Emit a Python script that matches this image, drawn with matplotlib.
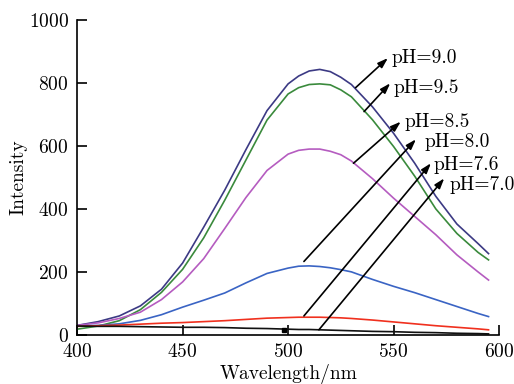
import numpy as np
import matplotlib
matplotlib.use("Agg")
import matplotlib.pyplot as plt

plt.rcParams["font.family"] = ["cmr10", "DejaVu Serif"]
plt.rcParams["mathtext.fontset"] = "cm"
plt.rcParams["axes.formatter.use_mathtext"] = True

# wavelength grid (nm)
wavelength = [400, 410, 420, 430, 440, 450, 460, 470, 480, 490, 500, 505,
              510, 515, 520, 525, 530, 540, 550, 560, 570, 580, 590, 595]

# intensities, one list per pH
ph90 = [30, 42, 60, 92, 145, 228, 342, 460, 588, 712, 797, 822,
        838, 843, 836, 818, 795, 724, 640, 545, 440, 352, 290, 258]
ph95 = [18, 28, 45, 80, 135, 208, 308, 428, 555, 682, 765, 785,
        795, 797, 794, 778, 756, 683, 598, 504, 400, 322, 262, 238]
ph85 = [30, 38, 52, 72, 112, 168, 242, 338, 436, 522, 574, 586,
        590, 590, 583, 572, 552, 496, 434, 376, 318, 254, 200, 174]
ph80 = [28, 30, 35, 46, 64, 88, 110, 133, 165, 195, 212, 218,
        219, 217, 213, 207, 200, 176, 154, 134, 112, 90, 68, 58]
ph76 = [27, 29, 31, 34, 37, 39, 42, 45, 49, 53, 55, 56,
        56, 56, 55, 54, 52, 47, 41, 35, 29, 24, 19, 16]
ph70 = [28, 27, 27, 26, 25, 24, 24, 23, 21, 20, 18, 17,
        17, 16, 15, 14, 13, 11, 10, 8, 7, 5, 4, 3]

series = [ph90, ph95, ph85, ph80, ph76, ph70]
colors = ["#3c3a84", "#3a8a3c", "#b55cc0", "#3a64c4", "#f0301e", "#111111"]

# labels: text, arrow start (on curve), arrow head, text anchor
labels = ["pH=9.0", "pH=9.5", "pH=8.5", "pH=8.0", "pH=7.6", "pH=7.0"]
arrow_start = [(532, 785), (536, 709), (531, 545), (507.5, 233), (507.5, 60), (514.6, 16)]
arrow_head = [(547.3, 879), (548.4, 799), (553.4, 677), (560.6, 621), (567.7, 545), (574, 497)]
text_pos = [(549, 879), (550, 784), (555, 676), (564.5, 613), (568.8, 540), (576.3, 476)]

fig = plt.figure(figsize=(5.14, 3.84), dpi=100)
ax = fig.add_axes([0.150, 0.128, 0.821, 0.820])

for y, c in zip(series, colors):
    ax.plot(wavelength, y, color=c, lw=1.2)

# small square marker sitting on the pH 7.0 trace
ax.plot([498], [15], marker="s", ms=3, color="black", ls="none")

for lab, s, h, t in zip(labels, arrow_start, arrow_head, text_pos):
    ax.annotate("", xy=h, xytext=s,
                arrowprops=dict(arrowstyle="-|>,head_length=0.6,head_width=0.2",
                                color="black", lw=1.2, shrinkA=0, shrinkB=0))
    ax.text(t[0], t[1], lab, fontsize=14, va="center", ha="left", clip_on=False)

ax.set_xlim(400, 600)
ax.set_ylim(0, 1000)
ax.set_xticks([400, 450, 500, 550, 600])
ax.set_yticks([0, 200, 400, 600, 800, 1000])
ax.spines["top"].set_visible(False)
ax.spines["right"].set_visible(False)
for sp in ["left", "bottom"]:
    ax.spines[sp].set_linewidth(1.2)
ax.tick_params(direction="in", length=7, width=1.2, labelsize=14, pad=6)
ax.set_xlabel("Wavelength/nm", fontsize=14, labelpad=2)
ax.set_ylabel("Intensity", fontsize=14, labelpad=1)

fig.savefig("out.png", dpi=100)
